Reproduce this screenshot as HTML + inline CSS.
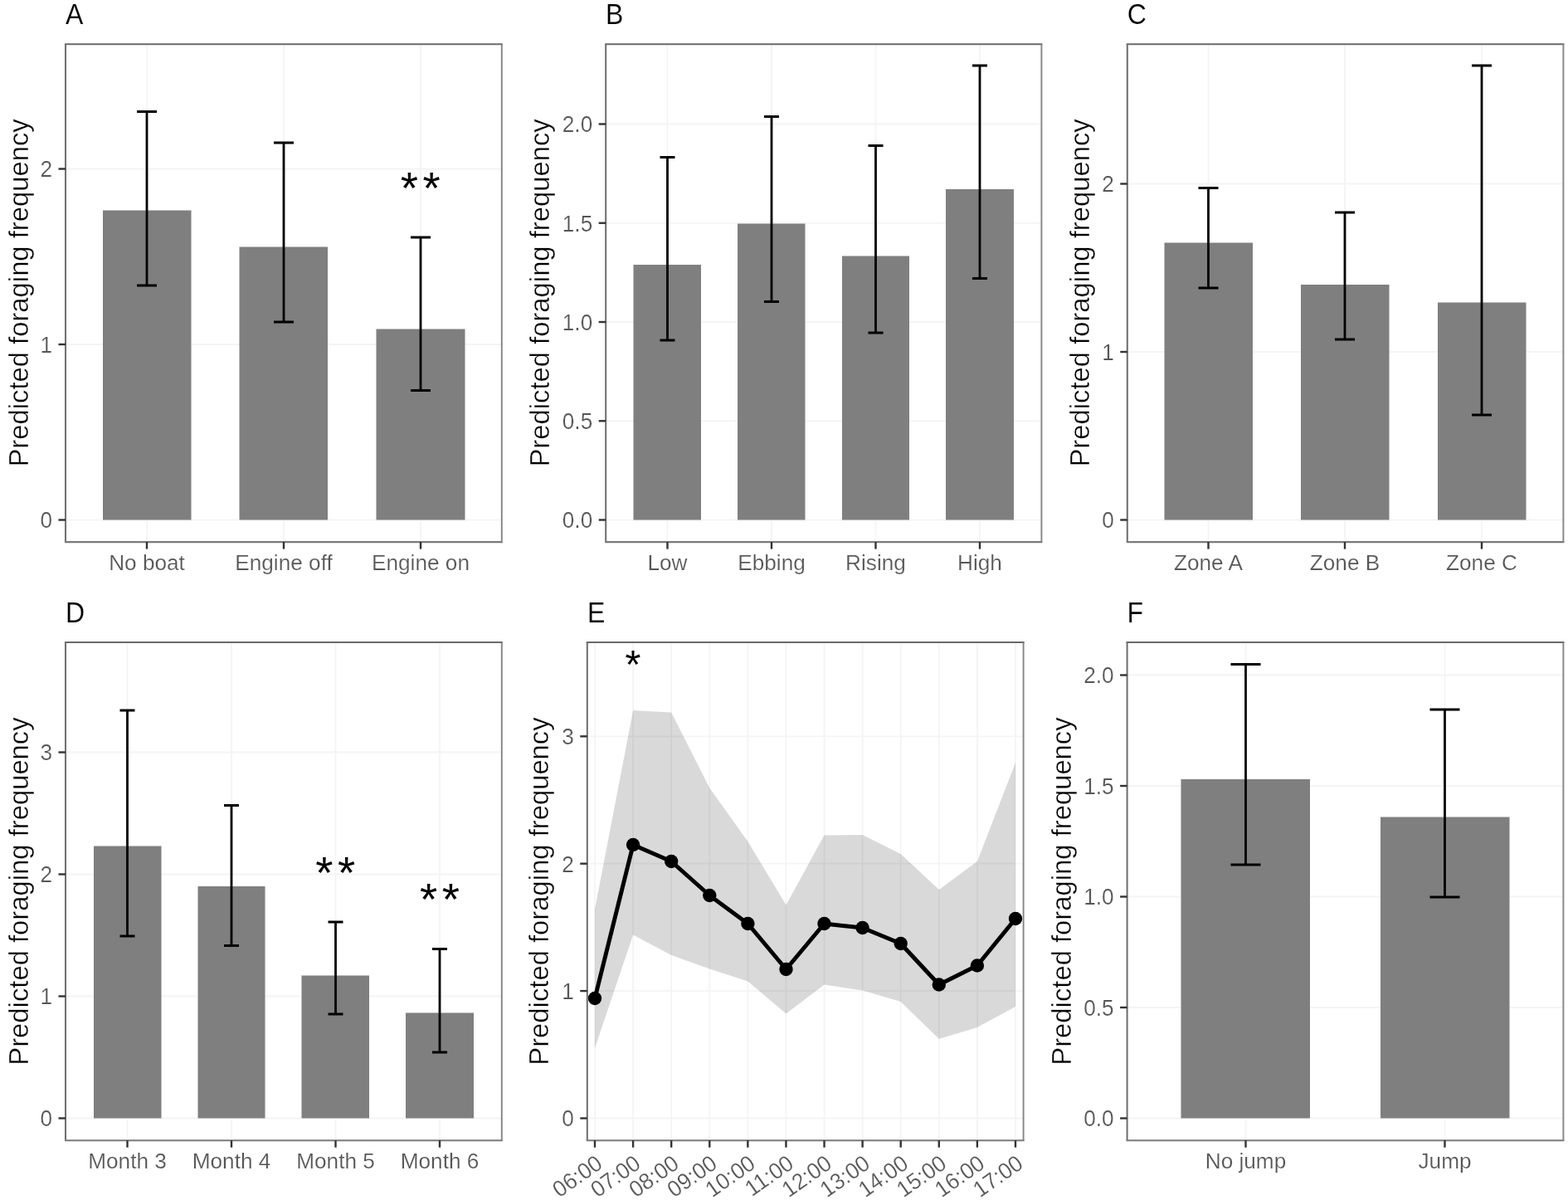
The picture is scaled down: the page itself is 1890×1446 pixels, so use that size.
<!DOCTYPE html>
<html lang="en">
<head>
<meta charset="utf-8">
<title>Predicted foraging frequency</title>
<style>
html,body{margin:0;padding:0;background:#fff;}
body{width:1890px;height:1446px;overflow:hidden;}
svg{display:block;font-family:"Liberation Sans", sans-serif;}
</style>
</head>
<body>
<svg width="1890" height="1446" viewBox="0 0 1890 1446">
<rect width="1890" height="1446" fill="#fff"/>
<g class="panel" id="panel-A">
<g stroke="#f4f4f4" stroke-width="1.8" fill="none">
<line x1="79.0" x2="604.8" y1="626.50" y2="626.50"/>
<line x1="79.0" x2="604.8" y1="415.00" y2="415.00"/>
<line x1="79.0" x2="604.8" y1="203.50" y2="203.50"/>
<line x1="177.00" x2="177.00" y1="53.2" y2="653.1"/>
<line x1="342.00" x2="342.00" y1="53.2" y2="653.1"/>
<line x1="507.00" x2="507.00" y1="53.2" y2="653.1"/>
</g>
<g fill="#7f7f7f">
<rect x="124" y="253.5" width="106.50" height="373.00"/>
<rect x="288.5" y="297.5" width="106.50" height="329.00"/>
<rect x="453.5" y="396.5" width="107.00" height="230.00"/>
</g>
<g stroke="#000" stroke-width="2.8" fill="none" stroke-linecap="butt">
<path d="M165 134.5H189M177 134.5V344M165 344H189"/>
<path d="M330 172H354M342 172V388M330 388H354"/>
<path d="M495 286H519M507 286V470.5M495 470.5H519"/>
</g>
<g fill="#000" stroke="#fff" stroke-width="0" text-anchor="middle">
<text font-size="54.5" x="493.35 520.05" y="244.94">**</text>
</g>
<g fill="none" stroke-linecap="butt">
<path d="M77.95 53.2H605.85" stroke="#6a6a6a" stroke-width="2.1"/>
<path d="M79.0 53.2V653.1" stroke="#727272" stroke-width="2.1"/>
<path d="M77.95 653.1H605.85" stroke="#7a7a7a" stroke-width="2.1"/>
<path d="M604.8 53.2V653.1" stroke="#858585" stroke-width="1.90"/>
</g>
<g stroke="#333" stroke-width="2.4">
<line x1="70.5" x2="79.0" y1="626.50" y2="626.50"/>
<line x1="70.5" x2="79.0" y1="415.00" y2="415.00"/>
<line x1="70.5" x2="79.0" y1="203.50" y2="203.50"/>
<line x1="177.00" x2="177.00" y1="653.1" y2="661.6"/>
<line x1="342.00" x2="342.00" y1="653.1" y2="661.6"/>
<line x1="507.00" x2="507.00" y1="653.1" y2="661.6"/>
</g>
<g font-size="26.2" fill="#565656" stroke="#fff" stroke-width="0.2">
<text transform="translate(63.0,636.30) scale(1,1.045)" text-anchor="end">0</text>
<text transform="translate(63.0,424.80) scale(1,1.045)" text-anchor="end">1</text>
<text transform="translate(63.0,213.30) scale(1,1.045)" text-anchor="end">2</text>
<text x="177.00" y="687.2" text-anchor="middle">No boat</text>
<text x="342.00" y="687.2" text-anchor="middle">Engine off</text>
<text x="507.00" y="687.2" text-anchor="middle">Engine on</text>
</g>
<text transform="translate(33.8,352.9) rotate(-90)" font-size="32.8" fill="#000" stroke="#fff" stroke-width="0.4" text-anchor="middle">Predicted foraging frequency</text>
<text transform="translate(79.0,29) scale(0.97,1.045)" font-size="33" fill="#000" stroke="#fff" stroke-width="0.15">A</text>
</g>
<g class="panel" id="panel-B">
<g stroke="#f4f4f4" stroke-width="1.8" fill="none">
<line x1="730.2" x2="1255.4" y1="626.50" y2="626.50"/>
<line x1="730.2" x2="1255.4" y1="507.25" y2="507.25"/>
<line x1="730.2" x2="1255.4" y1="388.00" y2="388.00"/>
<line x1="730.2" x2="1255.4" y1="268.75" y2="268.75"/>
<line x1="730.2" x2="1255.4" y1="149.50" y2="149.50"/>
<line x1="804.50" x2="804.50" y1="53.2" y2="653.1"/>
<line x1="930.00" x2="930.00" y1="53.2" y2="653.1"/>
<line x1="1055.50" x2="1055.50" y1="53.2" y2="653.1"/>
<line x1="1181.00" x2="1181.00" y1="53.2" y2="653.1"/>
</g>
<g fill="#7f7f7f">
<rect x="763.5" y="319" width="81.50" height="307.50"/>
<rect x="889" y="269.5" width="81.50" height="357.00"/>
<rect x="1015" y="308.5" width="81.00" height="318.00"/>
<rect x="1140" y="228" width="82.00" height="398.50"/>
</g>
<g stroke="#000" stroke-width="2.8" fill="none" stroke-linecap="butt">
<path d="M795.5 189.5H813.5M804.5 189.5V410M795.5 410H813.5"/>
<path d="M921 140.5H939M930 140.5V363.5M921 363.5H939"/>
<path d="M1046.5 175.5H1064.5M1055.5 175.5V401M1046.5 401H1064.5"/>
<path d="M1172 79H1190M1181 79V335.5M1172 335.5H1190"/>
</g>
<g fill="none" stroke-linecap="butt">
<path d="M729.15 53.2H1256.45" stroke="#6a6a6a" stroke-width="2.1"/>
<path d="M730.2 53.2V653.1" stroke="#727272" stroke-width="2.1"/>
<path d="M729.15 653.1H1256.45" stroke="#7a7a7a" stroke-width="2.1"/>
<path d="M1255.4 53.2V653.1" stroke="#858585" stroke-width="1.90"/>
</g>
<g stroke="#333" stroke-width="2.4">
<line x1="721.7" x2="730.2" y1="626.50" y2="626.50"/>
<line x1="721.7" x2="730.2" y1="507.25" y2="507.25"/>
<line x1="721.7" x2="730.2" y1="388.00" y2="388.00"/>
<line x1="721.7" x2="730.2" y1="268.75" y2="268.75"/>
<line x1="721.7" x2="730.2" y1="149.50" y2="149.50"/>
<line x1="804.50" x2="804.50" y1="653.1" y2="661.6"/>
<line x1="930.00" x2="930.00" y1="653.1" y2="661.6"/>
<line x1="1055.50" x2="1055.50" y1="653.1" y2="661.6"/>
<line x1="1181.00" x2="1181.00" y1="653.1" y2="661.6"/>
</g>
<g font-size="26.2" fill="#565656" stroke="#fff" stroke-width="0.2">
<text transform="translate(714.2,636.30) scale(1,1.045)" text-anchor="end">0.0</text>
<text transform="translate(714.2,517.05) scale(1,1.045)" text-anchor="end">0.5</text>
<text transform="translate(714.2,397.80) scale(1,1.045)" text-anchor="end">1.0</text>
<text transform="translate(714.2,278.55) scale(1,1.045)" text-anchor="end">1.5</text>
<text transform="translate(714.2,159.30) scale(1,1.045)" text-anchor="end">2.0</text>
<text x="804.50" y="687.2" text-anchor="middle">Low</text>
<text x="930.00" y="687.2" text-anchor="middle">Ebbing</text>
<text x="1055.50" y="687.2" text-anchor="middle">Rising</text>
<text x="1181.00" y="687.2" text-anchor="middle">High</text>
</g>
<text transform="translate(662,352.9) rotate(-90)" font-size="32.8" fill="#000" stroke="#fff" stroke-width="0.4" text-anchor="middle">Predicted foraging frequency</text>
<text transform="translate(730,29) scale(0.97,1.045)" font-size="33" fill="#000" stroke="#fff" stroke-width="0.15">B</text>
</g>
<g class="panel" id="panel-C">
<g stroke="#f4f4f4" stroke-width="1.8" fill="none">
<line x1="1358.8" x2="1884.4" y1="626.50" y2="626.50"/>
<line x1="1358.8" x2="1884.4" y1="424.00" y2="424.00"/>
<line x1="1358.8" x2="1884.4" y1="221.50" y2="221.50"/>
<line x1="1456.50" x2="1456.50" y1="53.2" y2="653.1"/>
<line x1="1621.00" x2="1621.00" y1="53.2" y2="653.1"/>
<line x1="1786.00" x2="1786.00" y1="53.2" y2="653.1"/>
</g>
<g fill="#7f7f7f">
<rect x="1403.5" y="292.5" width="106.50" height="334.00"/>
<rect x="1568" y="343" width="106.50" height="283.50"/>
<rect x="1733" y="364.5" width="106.50" height="262.00"/>
</g>
<g stroke="#000" stroke-width="2.8" fill="none" stroke-linecap="butt">
<path d="M1444.5 226.5H1468.5M1456.5 226.5V347M1444.5 347H1468.5"/>
<path d="M1609 256H1633M1621 256V409M1609 409H1633"/>
<path d="M1774 79H1798M1786 79V500M1774 500H1798"/>
</g>
<g fill="none" stroke-linecap="butt">
<path d="M1357.75 53.2H1885.45" stroke="#6a6a6a" stroke-width="2.1"/>
<path d="M1358.8 53.2V653.1" stroke="#727272" stroke-width="2.1"/>
<path d="M1357.75 653.1H1885.45" stroke="#7a7a7a" stroke-width="2.1"/>
<path d="M1884.4 53.2V653.1" stroke="#858585" stroke-width="1.90"/>
</g>
<g stroke="#333" stroke-width="2.4">
<line x1="1350.3" x2="1358.8" y1="626.50" y2="626.50"/>
<line x1="1350.3" x2="1358.8" y1="424.00" y2="424.00"/>
<line x1="1350.3" x2="1358.8" y1="221.50" y2="221.50"/>
<line x1="1456.50" x2="1456.50" y1="653.1" y2="661.6"/>
<line x1="1621.00" x2="1621.00" y1="653.1" y2="661.6"/>
<line x1="1786.00" x2="1786.00" y1="653.1" y2="661.6"/>
</g>
<g font-size="26.2" fill="#565656" stroke="#fff" stroke-width="0.2">
<text transform="translate(1342.8,636.30) scale(1,1.045)" text-anchor="end">0</text>
<text transform="translate(1342.8,433.80) scale(1,1.045)" text-anchor="end">1</text>
<text transform="translate(1342.8,231.30) scale(1,1.045)" text-anchor="end">2</text>
<text x="1456.50" y="687.2" text-anchor="middle">Zone A</text>
<text x="1621.00" y="687.2" text-anchor="middle">Zone B</text>
<text x="1786.00" y="687.2" text-anchor="middle">Zone C</text>
</g>
<text transform="translate(1312.6,352.9) rotate(-90)" font-size="32.8" fill="#000" stroke="#fff" stroke-width="0.4" text-anchor="middle">Predicted foraging frequency</text>
<text transform="translate(1358.8,29) scale(0.97,1.045)" font-size="33" fill="#000" stroke="#fff" stroke-width="0.15">C</text>
</g>
<g class="panel" id="panel-D">
<g stroke="#f4f4f4" stroke-width="1.8" fill="none">
<line x1="79.0" x2="604.8" y1="1347.50" y2="1347.50"/>
<line x1="79.0" x2="604.8" y1="1200.50" y2="1200.50"/>
<line x1="79.0" x2="604.8" y1="1053.50" y2="1053.50"/>
<line x1="79.0" x2="604.8" y1="906.50" y2="906.50"/>
<line x1="153.50" x2="153.50" y1="774.0" y2="1374.2"/>
<line x1="279.00" x2="279.00" y1="774.0" y2="1374.2"/>
<line x1="404.50" x2="404.50" y1="774.0" y2="1374.2"/>
<line x1="530.00" x2="530.00" y1="774.0" y2="1374.2"/>
</g>
<g fill="#7f7f7f">
<rect x="113" y="1019.5" width="81.50" height="328.00"/>
<rect x="238.5" y="1068" width="81.00" height="279.50"/>
<rect x="363.5" y="1175.5" width="81.50" height="172.00"/>
<rect x="489" y="1220.5" width="82.00" height="127.00"/>
</g>
<g stroke="#000" stroke-width="2.8" fill="none" stroke-linecap="butt">
<path d="M144.5 856H162.5M153.5 856V1128M144.5 1128H162.5"/>
<path d="M270 970.5H288M279 970.5V1139.5M270 1139.5H288"/>
<path d="M395.5 1111H413.5M404.5 1111V1222M395.5 1222H413.5"/>
<path d="M521 1143.5H539M530 1143.5V1268M521 1268H539"/>
</g>
<g fill="#000" stroke="#fff" stroke-width="0" text-anchor="middle">
<text font-size="54.5" x="390.85 417.55" y="1069.84">**</text>
<text font-size="54.5" x="516.55 543.25" y="1101.84">**</text>
</g>
<g fill="none" stroke-linecap="butt">
<path d="M77.95 774.0H605.85" stroke="#6a6a6a" stroke-width="2.1"/>
<path d="M79.0 774.0V1374.2" stroke="#727272" stroke-width="2.1"/>
<path d="M77.95 1374.2H605.85" stroke="#7a7a7a" stroke-width="2.1"/>
<path d="M604.8 774.0V1374.2" stroke="#858585" stroke-width="1.90"/>
</g>
<g stroke="#333" stroke-width="2.4">
<line x1="70.5" x2="79.0" y1="1347.50" y2="1347.50"/>
<line x1="70.5" x2="79.0" y1="1200.50" y2="1200.50"/>
<line x1="70.5" x2="79.0" y1="1053.50" y2="1053.50"/>
<line x1="70.5" x2="79.0" y1="906.50" y2="906.50"/>
<line x1="153.50" x2="153.50" y1="1374.2" y2="1382.7"/>
<line x1="279.00" x2="279.00" y1="1374.2" y2="1382.7"/>
<line x1="404.50" x2="404.50" y1="1374.2" y2="1382.7"/>
<line x1="530.00" x2="530.00" y1="1374.2" y2="1382.7"/>
</g>
<g font-size="26.2" fill="#565656" stroke="#fff" stroke-width="0.2">
<text transform="translate(63.0,1357.30) scale(1,1.045)" text-anchor="end">0</text>
<text transform="translate(63.0,1210.30) scale(1,1.045)" text-anchor="end">1</text>
<text transform="translate(63.0,1063.30) scale(1,1.045)" text-anchor="end">2</text>
<text transform="translate(63.0,916.30) scale(1,1.045)" text-anchor="end">3</text>
<text x="153.50" y="1408.4" text-anchor="middle">Month 3</text>
<text x="279.00" y="1408.4" text-anchor="middle">Month 4</text>
<text x="404.50" y="1408.4" text-anchor="middle">Month 5</text>
<text x="530.00" y="1408.4" text-anchor="middle">Month 6</text>
</g>
<text transform="translate(33.8,1074) rotate(-90)" font-size="32.8" fill="#000" stroke="#fff" stroke-width="0.4" text-anchor="middle">Predicted foraging frequency</text>
<text transform="translate(79.0,750) scale(0.97,1.045)" font-size="33" fill="#000" stroke="#fff" stroke-width="0.15">D</text>
</g>
<g class="panel" id="panel-E">
<g stroke="#f4f4f4" stroke-width="1.8" fill="none">
<line x1="707.8" x2="1233.6" y1="1347.50" y2="1347.50"/>
<line x1="707.8" x2="1233.6" y1="1194.10" y2="1194.10"/>
<line x1="707.8" x2="1233.6" y1="1040.70" y2="1040.70"/>
<line x1="707.8" x2="1233.6" y1="887.30" y2="887.30"/>
<line x1="717.00" x2="717.00" y1="774.0" y2="1374.2"/>
<line x1="763.09" x2="763.09" y1="774.0" y2="1374.2"/>
<line x1="809.18" x2="809.18" y1="774.0" y2="1374.2"/>
<line x1="855.27" x2="855.27" y1="774.0" y2="1374.2"/>
<line x1="901.36" x2="901.36" y1="774.0" y2="1374.2"/>
<line x1="947.45" x2="947.45" y1="774.0" y2="1374.2"/>
<line x1="993.54" x2="993.54" y1="774.0" y2="1374.2"/>
<line x1="1039.63" x2="1039.63" y1="774.0" y2="1374.2"/>
<line x1="1085.72" x2="1085.72" y1="774.0" y2="1374.2"/>
<line x1="1131.81" x2="1131.81" y1="774.0" y2="1374.2"/>
<line x1="1177.90" x2="1177.90" y1="774.0" y2="1374.2"/>
<line x1="1223.99" x2="1223.99" y1="774.0" y2="1374.2"/>
</g>
<polygon points="717.0,1095.5 763.1,856.0 809.2,858.5 855.3,949.5 901.4,1014.0 947.5,1090.5 993.5,1006.5 1039.6,1006.0 1085.7,1029.0 1131.8,1072.0 1177.9,1038.0 1224.0,919.0 1224.0,1213.0 1177.9,1238.0 1131.8,1252.0 1085.7,1207.0 1039.6,1193.5 993.5,1186.5 947.5,1221.5 901.4,1182.5 855.3,1167.5 809.2,1151.0 763.1,1126.5 717.0,1263.0" fill="#000" fill-opacity="0.15"/>
<polyline points="717.0,1203.0 763.1,1018.0 809.2,1038.0 855.3,1079.0 901.4,1113.0 947.5,1168.0 993.5,1113.0 1039.6,1118.0 1085.7,1137.0 1131.8,1186.5 1177.9,1163.5 1224.0,1107.0" fill="none" stroke="#000" stroke-width="5" stroke-linejoin="round"/>
<g fill="#000">
<circle cx="717.0" cy="1203.0" r="8.2"/>
<circle cx="763.1" cy="1018.0" r="8.2"/>
<circle cx="809.2" cy="1038.0" r="8.2"/>
<circle cx="855.3" cy="1079.0" r="8.2"/>
<circle cx="901.4" cy="1113.0" r="8.2"/>
<circle cx="947.5" cy="1168.0" r="8.2"/>
<circle cx="993.5" cy="1113.0" r="8.2"/>
<circle cx="1039.6" cy="1118.0" r="8.2"/>
<circle cx="1085.7" cy="1137.0" r="8.2"/>
<circle cx="1131.8" cy="1186.5" r="8.2"/>
<circle cx="1177.9" cy="1163.5" r="8.2"/>
<circle cx="1224.0" cy="1107.0" r="8.2"/>
</g>
<g fill="#000" stroke="#fff" stroke-width="0" text-anchor="middle">
<text font-size="48.5" x="763.00" y="816.85">*</text>
</g>
<g fill="none" stroke-linecap="butt">
<path d="M706.75 774.0H1234.65" stroke="#6a6a6a" stroke-width="2.1"/>
<path d="M707.8 774.0V1374.2" stroke="#727272" stroke-width="2.1"/>
<path d="M706.75 1374.2H1234.65" stroke="#7a7a7a" stroke-width="2.1"/>
<path d="M1233.6 774.0V1374.2" stroke="#858585" stroke-width="1.90"/>
</g>
<g stroke="#333" stroke-width="2.4">
<line x1="699.3" x2="707.8" y1="1347.50" y2="1347.50"/>
<line x1="699.3" x2="707.8" y1="1194.10" y2="1194.10"/>
<line x1="699.3" x2="707.8" y1="1040.70" y2="1040.70"/>
<line x1="699.3" x2="707.8" y1="887.30" y2="887.30"/>
<line x1="717.00" x2="717.00" y1="1374.2" y2="1382.7"/>
<line x1="763.09" x2="763.09" y1="1374.2" y2="1382.7"/>
<line x1="809.18" x2="809.18" y1="1374.2" y2="1382.7"/>
<line x1="855.27" x2="855.27" y1="1374.2" y2="1382.7"/>
<line x1="901.36" x2="901.36" y1="1374.2" y2="1382.7"/>
<line x1="947.45" x2="947.45" y1="1374.2" y2="1382.7"/>
<line x1="993.54" x2="993.54" y1="1374.2" y2="1382.7"/>
<line x1="1039.63" x2="1039.63" y1="1374.2" y2="1382.7"/>
<line x1="1085.72" x2="1085.72" y1="1374.2" y2="1382.7"/>
<line x1="1131.81" x2="1131.81" y1="1374.2" y2="1382.7"/>
<line x1="1177.90" x2="1177.90" y1="1374.2" y2="1382.7"/>
<line x1="1223.99" x2="1223.99" y1="1374.2" y2="1382.7"/>
</g>
<g font-size="26.2" fill="#565656" stroke="#fff" stroke-width="0.2">
<text transform="translate(691.8,1357.30) scale(1,1.045)" text-anchor="end">0</text>
<text transform="translate(691.8,1203.90) scale(1,1.045)" text-anchor="end">1</text>
<text transform="translate(691.8,1050.50) scale(1,1.045)" text-anchor="end">2</text>
<text transform="translate(691.8,897.10) scale(1,1.045)" text-anchor="end">3</text>
<text transform="translate(727.90,1406.1) rotate(-35) scale(1,1.045)" text-anchor="end">06:00</text>
<text transform="translate(773.99,1406.1) rotate(-35) scale(1,1.045)" text-anchor="end">07:00</text>
<text transform="translate(820.08,1406.1) rotate(-35) scale(1,1.045)" text-anchor="end">08:00</text>
<text transform="translate(866.17,1406.1) rotate(-35) scale(1,1.045)" text-anchor="end">09:00</text>
<text transform="translate(912.26,1406.1) rotate(-35) scale(1,1.045)" text-anchor="end">10:00</text>
<text transform="translate(958.35,1406.1) rotate(-35) scale(1,1.045)" text-anchor="end">11:00</text>
<text transform="translate(1004.44,1406.1) rotate(-35) scale(1,1.045)" text-anchor="end">12:00</text>
<text transform="translate(1050.53,1406.1) rotate(-35) scale(1,1.045)" text-anchor="end">13:00</text>
<text transform="translate(1096.62,1406.1) rotate(-35) scale(1,1.045)" text-anchor="end">14:00</text>
<text transform="translate(1142.71,1406.1) rotate(-35) scale(1,1.045)" text-anchor="end">15:00</text>
<text transform="translate(1188.80,1406.1) rotate(-35) scale(1,1.045)" text-anchor="end">16:00</text>
<text transform="translate(1234.89,1406.1) rotate(-35) scale(1,1.045)" text-anchor="end">17:00</text>
</g>
<text transform="translate(661,1074) rotate(-90)" font-size="32.8" fill="#000" stroke="#fff" stroke-width="0.4" text-anchor="middle">Predicted foraging frequency</text>
<text transform="translate(708,750) scale(0.97,1.045)" font-size="33" fill="#000" stroke="#fff" stroke-width="0.15">E</text>
</g>
<g class="panel" id="panel-F">
<g stroke="#f4f4f4" stroke-width="1.8" fill="none">
<line x1="1358.6" x2="1884.4" y1="1347.50" y2="1347.50"/>
<line x1="1358.6" x2="1884.4" y1="1214.00" y2="1214.00"/>
<line x1="1358.6" x2="1884.4" y1="1080.50" y2="1080.50"/>
<line x1="1358.6" x2="1884.4" y1="947.00" y2="947.00"/>
<line x1="1358.6" x2="1884.4" y1="813.50" y2="813.50"/>
<line x1="1501.50" x2="1501.50" y1="774.0" y2="1374.2"/>
<line x1="1741.50" x2="1741.50" y1="774.0" y2="1374.2"/>
</g>
<g fill="#7f7f7f">
<rect x="1423.5" y="939" width="155.50" height="408.50"/>
<rect x="1664" y="984.5" width="155.50" height="363.00"/>
</g>
<g stroke="#000" stroke-width="2.8" fill="none" stroke-linecap="butt">
<path d="M1483.5 800.5H1519.5M1501.5 800.5V1042M1483.5 1042H1519.5"/>
<path d="M1723.5 855H1759.5M1741.5 855V1081M1723.5 1081H1759.5"/>
</g>
<g fill="none" stroke-linecap="butt">
<path d="M1357.55 774.0H1885.45" stroke="#6a6a6a" stroke-width="2.1"/>
<path d="M1358.6 774.0V1374.2" stroke="#727272" stroke-width="2.1"/>
<path d="M1357.55 1374.2H1885.45" stroke="#7a7a7a" stroke-width="2.1"/>
<path d="M1884.4 774.0V1374.2" stroke="#858585" stroke-width="1.90"/>
</g>
<g stroke="#333" stroke-width="2.4">
<line x1="1350.1" x2="1358.6" y1="1347.50" y2="1347.50"/>
<line x1="1350.1" x2="1358.6" y1="1214.00" y2="1214.00"/>
<line x1="1350.1" x2="1358.6" y1="1080.50" y2="1080.50"/>
<line x1="1350.1" x2="1358.6" y1="947.00" y2="947.00"/>
<line x1="1350.1" x2="1358.6" y1="813.50" y2="813.50"/>
<line x1="1501.50" x2="1501.50" y1="1374.2" y2="1382.7"/>
<line x1="1741.50" x2="1741.50" y1="1374.2" y2="1382.7"/>
</g>
<g font-size="26.2" fill="#565656" stroke="#fff" stroke-width="0.2">
<text transform="translate(1342.6,1357.30) scale(1,1.045)" text-anchor="end">0.0</text>
<text transform="translate(1342.6,1223.80) scale(1,1.045)" text-anchor="end">0.5</text>
<text transform="translate(1342.6,1090.30) scale(1,1.045)" text-anchor="end">1.0</text>
<text transform="translate(1342.6,956.80) scale(1,1.045)" text-anchor="end">1.5</text>
<text transform="translate(1342.6,823.30) scale(1,1.045)" text-anchor="end">2.0</text>
<text x="1501.50" y="1408.4" text-anchor="middle">No jump</text>
<text x="1741.50" y="1408.4" text-anchor="middle">Jump</text>
</g>
<text transform="translate(1291.3,1074) rotate(-90)" font-size="32.8" fill="#000" stroke="#fff" stroke-width="0.4" text-anchor="middle">Predicted foraging frequency</text>
<text transform="translate(1358.6,750) scale(0.97,1.045)" font-size="33" fill="#000" stroke="#fff" stroke-width="0.15">F</text>
</g>
</svg>
</body>
</html>
